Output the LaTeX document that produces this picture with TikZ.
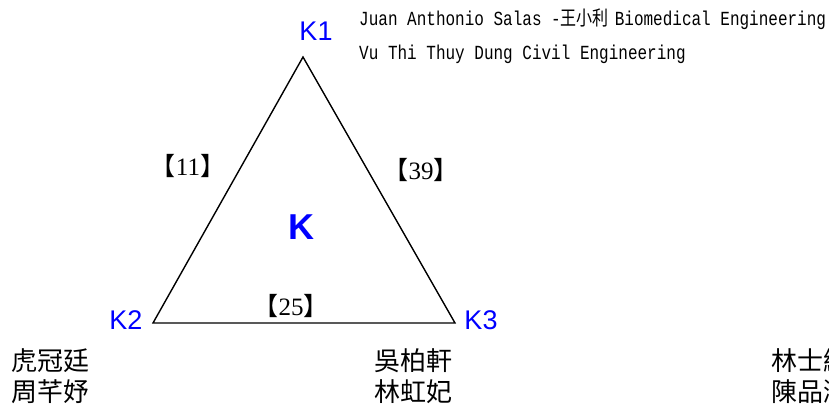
\documentclass[tikz,border=0pt]{standalone}
\usepackage{fontspec}
\setmainfont{Liberation Serif}
\newfontfamily\cjk{Noto Sans CJK TC}
\newfontfamily\monofnt{Liberation Mono}
\newfontfamily\sansfnt{Liberation Sans}
\definecolor{kblue}{RGB}{0,0,255}
\begin{document}
\begin{tikzpicture}[x=1pt,y=-1pt,
  klabel/.style={inner sep=0pt,text=kblue,font=\sansfnt\fontsize{27}{27}\selectfont},
  numlabel/.style={inner sep=0pt,font=\fontsize{25}{25}\selectfont},
  header/.style={inner sep=0pt,anchor=base west,font=\monofnt\fontsize{16}{16}\selectfont},
  names/.style={inner sep=0pt,align=left,font=\cjk\fontsize{26}{31}\selectfont},
  tri/.style={draw=black,line width=1.4pt,line join=miter}]
\useasboundingbox (0,0) rectangle (829,405);
\clip (0,0) rectangle (829,405);
\coordinate (A) at (303,57);
\coordinate (B) at (153,323);
\coordinate (C) at (455,323);
\draw[tri] (A) -- (B) -- (C) -- cycle;
\node[klabel] (k1) at (316,31) {K1};
\node[klabel] (k2) at (126,320) {K2};
\node[klabel] (k3) at (481,320) {K3};
\node[inner sep=0pt,text=kblue,font=\sansfnt\bfseries\fontsize{36}{36}\selectfont] (k) at (301,227) {K};
\node[numlabel] (n11) at (188,166) {{\cjk 【}11{\cjk 】}};
\node[numlabel] (n39) at (421,170) {{\cjk 【}39{\cjk 】}};
\node[numlabel] (n25) at (291,306) {{\cjk 【}25{\cjk 】}};
\node[header] (h1) at (359,25) {\scalebox{1}[1.25]{Juan Anthonio Salas -\makebox[54pt][l]{\cjk\fontsize{16}{16}\selectfont 王小利}Biomedical Engineering}};
\node[header] (h2) at (359,59) {\scalebox{1}[1.25]{Vu Thi Thuy Dung Civil Engineering}};
\node[names,anchor=west] (g1) at (11,376) {虎冠廷\\周芊妤};
\node[names] (g2) at (413,376) {吳柏軒\\林虹妃};
\node[names,anchor=west] (g3) at (771,376) {林士緯\\陳品潔};
\end{tikzpicture}
\end{document}
